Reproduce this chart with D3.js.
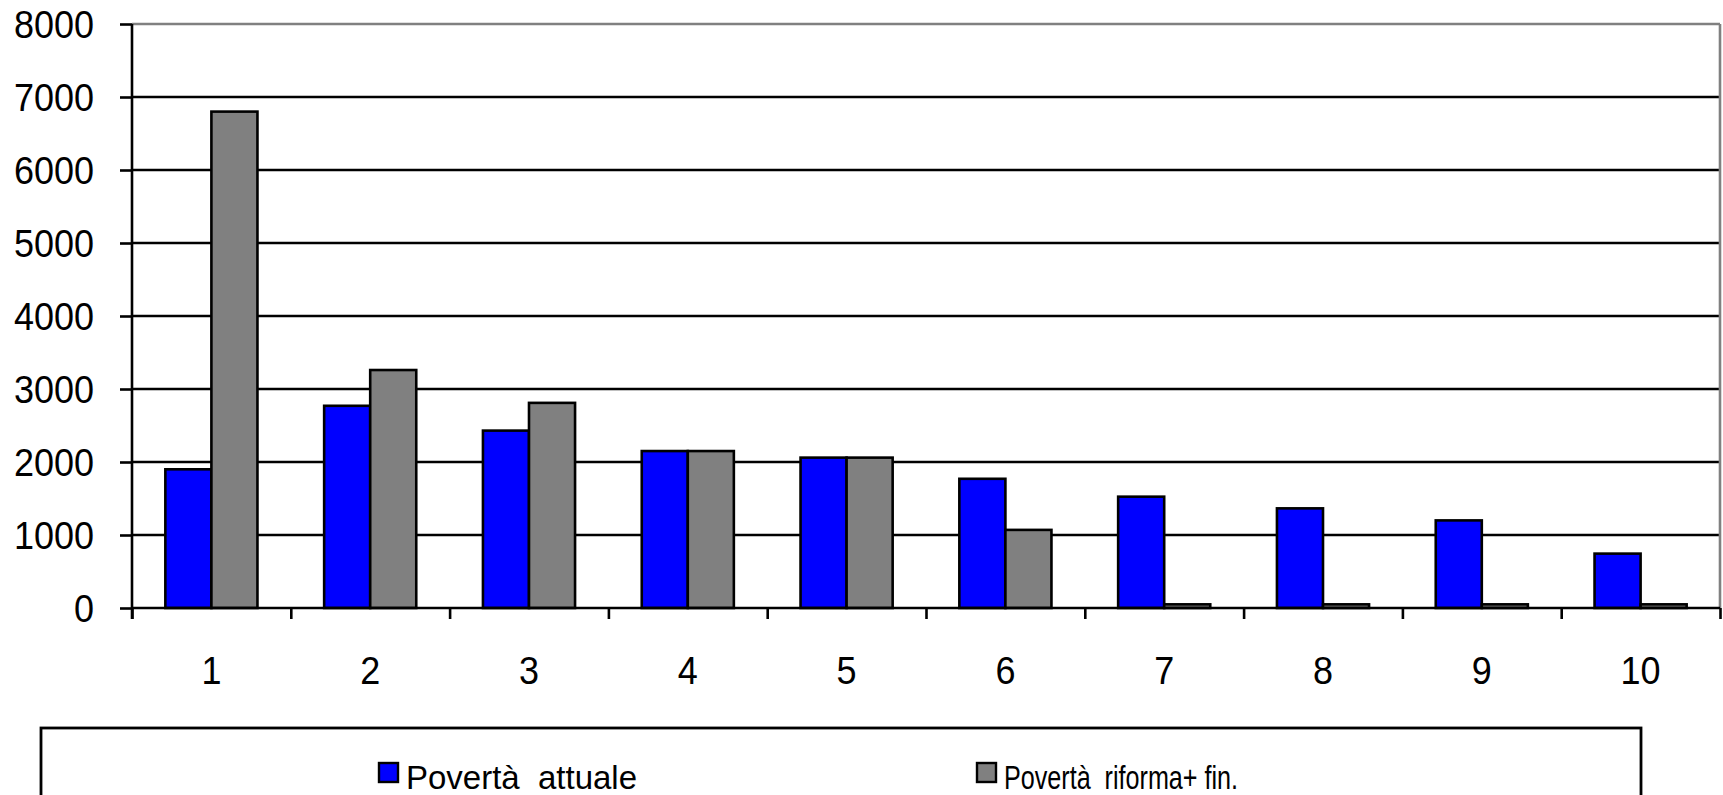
<!DOCTYPE html>
<html>
<head>
<meta charset="utf-8">
<script src="https://cdn.jsdelivr.net/npm/d3@7"></script>
<style>
  html, body { margin: 0; padding: 0; background: #fff; }
  svg { display: block; }
  text { font-family: "Liberation Sans", Arial, sans-serif; fill: #000; }
</style>
</head>
<body>
<svg id="chart" width="1723" height="795"></svg>
<script>
// Decili di reddito e famiglie povere per decile
const categories = ["1", "2", "3", "4", "5", "6", "7", "8", "9", "10"];
const seriesNames = ["Povertà  attuale", "Povertà  riforma+ fin."];
const povertaAttuale = [1900, 2770, 2430, 2150, 2060, 1770, 1525, 1365, 1200, 745];
const povertaRiforma = [6800, 3260, 2810, 2150, 2060, 1070, 50, 50, 50, 50];
const yTicks = [0, 1000, 2000, 3000, 4000, 5000, 6000, 7000, 8000];
const seriesColors = ["#0000FF", "#808080"];

const svg = d3.select("#chart");

const plot = { left: 132, right: 1720, top: 24, bottom: 608 };

const x = d3.scaleBand()
  .domain(categories)
  .range([plot.left, plot.right])
  .paddingInner(0.42)
  .paddingOuter(0.21);

const xSeries = d3.scaleBand()
  .domain(d3.range(seriesNames.length))
  .range([0, x.bandwidth()]);

const y = d3.scaleLinear()
  .domain([0, 8000])
  .range([plot.bottom, plot.top]);

// Boundary ticks between categories
const xEdges = d3.scaleLinear()
  .domain([0, categories.length])
  .range([plot.left, plot.right]);

// Horizontal gridlines
svg.append("g")
  .selectAll("line")
  .data(yTicks.filter(d => d > 0 && d < 8000))
  .join("line")
  .attr("x1", plot.left)
  .attr("x2", plot.right)
  .attr("y1", d => y(d))
  .attr("y2", d => y(d))
  .attr("stroke", "#000")
  .attr("stroke-width", 2.6);

// Plot frame: top and right in grey
svg.append("line")
  .attr("x1", plot.left).attr("x2", plot.right)
  .attr("y1", plot.top).attr("y2", plot.top)
  .attr("stroke", "#808080").attr("stroke-width", 2.6);
svg.append("line")
  .attr("x1", plot.right).attr("x2", plot.right)
  .attr("y1", plot.top).attr("y2", plot.bottom)
  .attr("stroke", "#808080").attr("stroke-width", 2.6);

// Bars
const rows = categories.map((c, i) => ({ cat: c, values: [povertaAttuale[i], povertaRiforma[i]] }));

svg.append("g")
  .selectAll("g")
  .data(rows)
  .join("g")
  .attr("transform", d => `translate(${x(d.cat)},0)`)
  .selectAll("rect")
  .data(d => d.values.map((v, k) => ({ v, k })))
  .join("rect")
  .attr("x", d => xSeries(d.k))
  .attr("width", xSeries.bandwidth())
  .attr("y", d => y(d.v))
  .attr("height", d => y(0) - y(d.v))
  .attr("fill", d => seriesColors[d.k])
  .attr("stroke", "#000")
  .attr("stroke-width", 2.6);

// Y axis
const yAxis = svg.append("g")
  .attr("transform", `translate(${plot.left},0)`)
  .call(d3.axisLeft(y).tickValues(yTicks).tickSize(12).tickPadding(26).tickFormat(d3.format("d")));
yAxis.select(".domain")
  .attr("d", `M0,${plot.top}V${plot.bottom + 11}`)
  .attr("stroke", "#000").attr("stroke-width", 2.6);
yAxis.selectAll(".tick line").attr("stroke", "#000").attr("stroke-width", 2.6);
yAxis.selectAll(".tick text")
  .attr("font-size", 36)
  .attr("font-family", "Liberation Sans, Arial, sans-serif")
  .attr("dy", "0.34em")
  .attr("transform", "scale(1,1.1)");

// X axis baseline and boundary ticks
const xTickAxis = svg.append("g")
  .attr("transform", `translate(0,${plot.bottom})`)
  .call(d3.axisBottom(xEdges).ticks(categories.length).tickSize(11).tickFormat(""));
xTickAxis.select(".domain")
  .attr("d", `M${plot.left},0H${plot.right}`)
  .attr("stroke", "#000").attr("stroke-width", 2.6);
xTickAxis.selectAll(".tick line").attr("stroke", "#000").attr("stroke-width", 2.6);

// Category labels
const xLabelAxis = svg.append("g")
  .attr("transform", `translate(0,${plot.bottom})`)
  .call(d3.axisBottom(x).tickSize(0).tickPadding(0));
xLabelAxis.select(".domain").remove();
xLabelAxis.selectAll(".tick text")
  .attr("font-size", 36)
  .attr("font-family", "Liberation Sans, Arial, sans-serif")
  .attr("y", 0)
  .attr("dy", 0)
  .attr("transform", "translate(0,76) scale(1,1.1)");

// Legend
const legend = svg.append("g");
legend.append("rect")
  .attr("x", 41).attr("y", 728)
  .attr("width", 1600).attr("height", 90)
  .attr("fill", "none")
  .attr("stroke", "#000").attr("stroke-width", 2.8);

const legendX = [379, 977];
const legendTextWidth = [231, 234];
const items = legend.selectAll("g.item")
  .data(seriesNames)
  .join("g")
  .attr("class", "item")
  .attr("transform", (d, i) => `translate(${legendX[i]},763)`);
items.append("rect")
  .attr("width", 19).attr("height", 19)
  .attr("fill", (d, i) => seriesColors[i])
  .attr("stroke", "#000").attr("stroke-width", 2.4);
items.append("text")
  .attr("x", 27)
  .attr("y", 0)
  .attr("font-size", 30)
  .attr("textLength", (d, i) => legendTextWidth[i])
  .attr("lengthAdjust", "spacingAndGlyphs")
  .attr("transform", "translate(0,26) scale(1,1.1)")
  .style("white-space", "pre")
  .text(d => d);
</script>
</body>
</html>
